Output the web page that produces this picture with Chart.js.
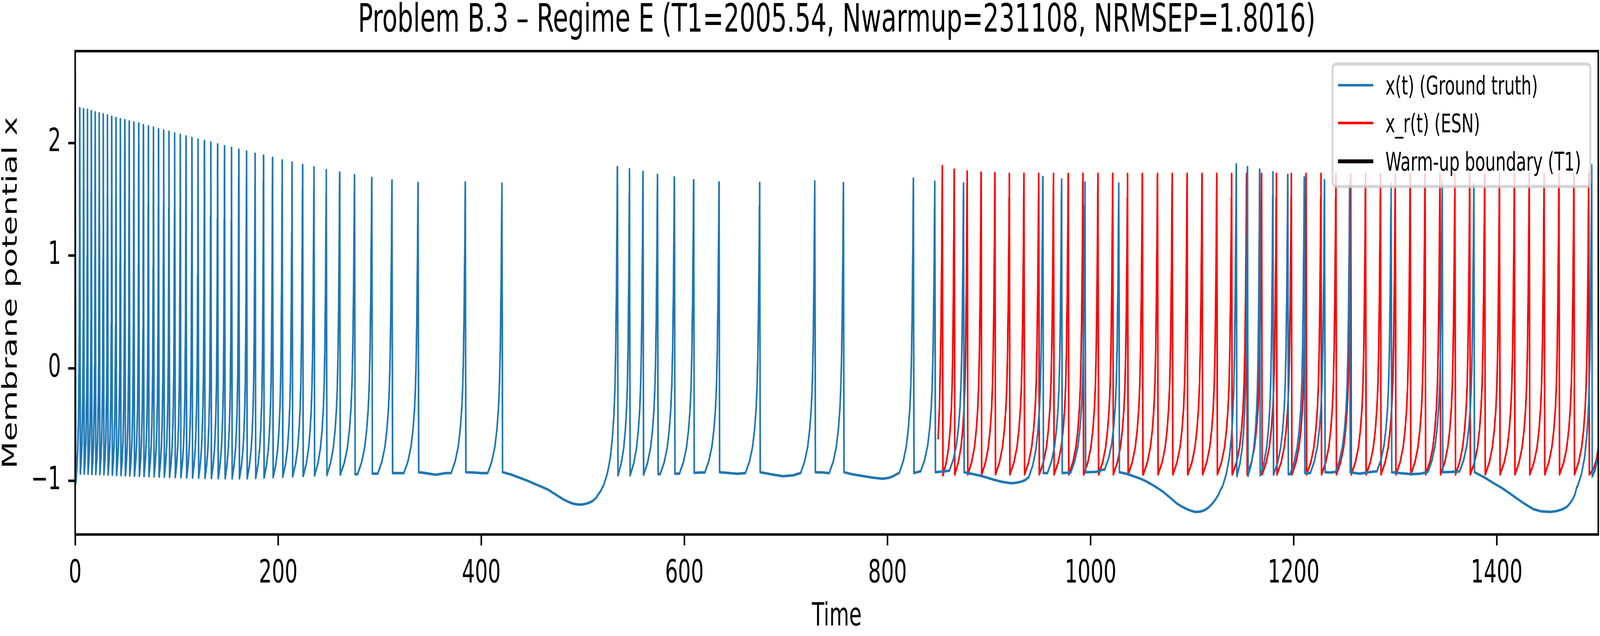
<!DOCTYPE html>
<html>
<head>
<meta charset="utf-8">
<script src="https://cdn.jsdelivr.net/npm/chart.js@4.4.1/dist/chart.umd.min.js"></script>
<style>
  html, body { margin: 0; padding: 0; background: #fff; overflow: hidden; }
  canvas { display: block; }
</style>
</head>
<body>
<canvas id="myChart" width="6428" height="1629" style="width:100vw;height:100vh"></canvas>
<script>
// values
const xTicks = [0, 200, 400, 600, 800, 1000, 1200, 1400];
const yTicks = [-1, 0, 1, 2];
const T1 = 2005.54;

// ground truth x(t): spike peak times, peak heights, value just after each reset
const blueSpikeT = [0, 4.5, 8.3, 12.1, 15.9, 19.7, 23.7, 27.7, 31.8, 36.0, 40.2, 44.5, 48.9, 53.2, 57.8,
  62.6, 67.2, 72.1, 77.1, 82.1, 87.2, 92.4, 98.0, 103.5, 109.2, 115.0, 121.0, 127.3, 133.6, 140.3, 147.1,
  154.0, 161.2, 168.8, 177.2, 185.5, 194.4, 203.9, 213.6, 224.0, 235.2, 247.3, 260.5, 275.1, 292.1, 312.0,
  337.7, 384.2, 420.3, 534.0, 545.9, 559.2, 573.5, 590.1, 609.1, 634.1, 674.1, 728.4, 756.6, 825.5, 846.6,
  874.9, 953.0, 971.5, 994.5, 1027.8, 1143.5, 1154.5, 1166.5, 1179.6, 1194.2, 1210.5, 1230.4, 1255.2,
  1296.0, 1346.3, 1377.5, 1493.5];
const blueSpikeX = [2.626, 2.308, 2.300, 2.294, 2.283, 2.272, 2.264, 2.255, 2.244, 2.233, 2.222, 2.211, 2.203,
  2.191, 2.183, 2.172, 2.158, 2.147, 2.136, 2.122, 2.110, 2.099, 2.085, 2.072, 2.058, 2.044, 2.030, 2.018,
  2.005, 1.988, 1.971, 1.957, 1.940, 1.924, 1.904, 1.888, 1.868, 1.846, 1.826, 1.804, 1.784, 1.759, 1.737,
  1.715, 1.690, 1.667, 1.645, 1.650, 1.639, 1.787, 1.767, 1.743, 1.717, 1.695, 1.670, 1.650, 1.645, 1.659,
  1.645, 1.684, 1.656, 1.642, 1.698, 1.676, 1.650, 1.639, 1.809, 1.787, 1.765, 1.740, 1.717, 1.695, 1.670,
  1.648, 1.642, 1.656, 1.636, 1.801];
const blueTroughX = [-1.02, -0.935, -0.935, -0.937, -0.938, -0.94, -0.94, -0.942, -0.944, -0.945, -0.947,
  -0.948, -0.95, -0.952, -0.954, -0.955, -0.957, -0.958, -0.96, -0.962, -0.963, -0.965, -0.966, -0.968,
  -0.97, -0.971, -0.972, -0.974, -0.975, -0.976, -0.977, -0.978, -0.978, -0.978, -0.975, -0.972, -0.968,
  -0.963, -0.96, -0.956, -0.952, -0.948, -0.944, -0.94, -0.935, -0.93, -0.922, -0.922, -0.922,
  -0.95, -0.95, -0.945, -0.94, -0.935, -0.928, -0.922, -0.922, -0.922, -0.922, -0.93, -0.922, -0.922,
  -0.93, -0.93, -0.922, -0.922, -0.958, -0.955, -0.95, -0.945, -0.94, -0.93, -0.922, -0.922, -0.922,
  -0.922, -0.922, -0.96];
// slow subthreshold stretches between spikes (time, value)
const blueRest = [
  [345, -0.93], [355, -0.945], [365, -0.93],
  [392, -0.925], [400, -0.93],
  [430, -0.945], [439.6, -0.978], [446, -1.0], [453.5, -1.03], [459, -1.05], [465.3, -1.075], [471, -1.108],
  [477.5, -1.145], [482, -1.17], [487, -1.19], [491, -1.203], [496.2, -1.21], [500, -1.208], [504, -1.2],
  [507, -1.19], [510, -1.175], [513, -1.15], [515, -1.12], [517.5, -1.09], [519.6, -1.05],
  [615, -0.925],
  [645, -0.93], [652, -0.936], [660, -0.93],
  [685, -0.94], [697, -0.958], [707, -0.95], [714, -0.93],
  [737, -0.925], [742, -0.93],
  [765, -0.94], [775, -0.955], [785, -0.97], [795, -0.98], [801, -0.973], [805, -0.96], [811, -0.93],
  [832, -0.915],
  [855, -0.915], [860, -0.91],
  [890, -0.95], [898, -0.97], [905, -0.99], [913, -1.008], [921.6, -1.02], [927, -1.016], [932, -1.005],
  [936, -0.99], [938.5, -0.97],
  [980, -0.925],
  [1005, -0.92], [1012, -0.9],
  [1035, -0.935], [1040, -0.95], [1048.7, -0.978], [1054, -1.0], [1060, -1.03], [1066, -1.063], [1072, -1.1],
  [1078, -1.145], [1085, -1.2], [1090, -1.228], [1095, -1.25], [1099, -1.265], [1103, -1.275], [1108, -1.272],
  [1112, -1.26], [1116, -1.237], [1120, -1.2], [1123, -1.165], [1126, -1.12], [1129, -1.06],
  [1236, -0.925], [1241, -0.92],
  [1265, -0.935], [1274, -0.922], [1281, -0.915],
  [1305, -0.93], [1316, -0.94], [1325, -0.935], [1332, -0.92],
  [1355, -0.92], [1363, -0.915],
  [1384, -0.95], [1390, -0.98], [1397, -1.02], [1404.7, -1.06], [1412, -1.105], [1419, -1.15], [1427, -1.2],
  [1436, -1.25], [1444, -1.27], [1452.6, -1.275], [1459, -1.267], [1465, -1.25], [1469, -1.23], [1472, -1.2],
  [1475, -1.16], [1477, -1.12], [1479, -1.05],
  [1497, -0.9], [1500, -0.77]
];

// ESN prediction x_r(t)
const redLeadIn = [[849.8, -0.63], [851.2, -0.35], [852.6, 0.3], [853.4, 1.0]];
const redSpikeT = [854.0, 865.7, 878.5, 892.2, 905.8, 920.0, 934.4, 948.9, 963.5, 978.0, 992.5, 1007.3,
  1021.8, 1036.4, 1051.0, 1065.9, 1080.4, 1095.1, 1109.8, 1124.3, 1138.9, 1153.7, 1168.4, 1183.0, 1197.7,
  1212.2, 1226.9, 1241.6, 1256.2, 1270.8, 1285.5, 1300.1, 1314.8, 1329.4, 1344.1, 1358.8, 1373.4, 1388.1,
  1402.7, 1417.4, 1432.0, 1446.7, 1461.3, 1476.0, 1490.6];
const redSpikeX = [1.795, 1.762, 1.748, 1.737, 1.732, 1.726, 1.726, 1.726, 1.726, 1.726, 1.726, 1.726,
  1.726, 1.726, 1.726, 1.726, 1.726, 1.726, 1.726, 1.726, 1.726, 1.726, 1.726, 1.726, 1.726, 1.726,
  1.726, 1.726, 1.726, 1.726, 1.726, 1.726, 1.726, 1.726, 1.726, 1.726, 1.726, 1.726, 1.726, 1.726,
  1.726, 1.726, 1.726, 1.726, 1.726];
const redTroughX = [-0.95, -0.942, -0.942, -0.942, -0.942, -0.942, -0.942, -0.942, -0.942, -0.942, -0.942,
  -0.942, -0.942, -0.942, -0.942, -0.942, -0.942, -0.942, -0.942, -0.942, -0.942, -0.942, -0.942, -0.942,
  -0.942, -0.942, -0.942, -0.942, -0.942, -0.942, -0.942, -0.942, -0.942, -0.942, -0.942, -0.942, -0.942,
  -0.942, -0.942, -0.942, -0.942, -0.942, -0.942, -0.942, -0.942];
const redRest = [[1495, -0.9], [1498, -0.82], [1500, -0.71]];

// upstroke shape read from an isolated spike: time before peak, fraction of the way up
const riseTau = [14, 10, 7, 5, 3.5, 2.5, 1.7, 1.0, 0.5, 0.2];
const riseFrac = [0, 0.04, 0.09, 0.15, 0.22, 0.30, 0.42, 0.60, 0.78, 0.92];
const resetDelay = 0.6;

const FONT = "'DejaVu Sans', sans-serif";

function buildTrace(peakT, peakX, troughX, rest, leadIn) {
  const pts = leadIn.map(p => ({x: p[0], y: p[1]}));
  for (let i = 0; i < peakT.length; i++) {
    pts.push({x: peakT[i], y: peakX[i]});
    const tr = peakT[i] + resetDelay;
    pts.push({x: tr, y: troughX[i]});
    if (i === peakT.length - 1) {
      rest.forEach(p => { if (p[0] > tr) pts.push({x: p[0], y: p[1]}); });
      break;
    }
    let base = troughX[i];
    const next = peakT[i + 1];
    const span = Math.min(riseTau[0], next - tr);
    const start = next - span;
    rest.forEach(p => {
      if (p[0] > tr && p[0] < start) { pts.push({x: p[0], y: p[1]}); base = p[1]; }
    });
    for (let k = 0; k < riseTau.length; k++) {
      pts.push({x: next - riseTau[k] * span / riseTau[0], y: base + riseFrac[k] * (peakX[i + 1] - base)});
    }
  }
  return pts;
}

const yMin = -1.475, yMax = 2.815;

const frameAndLegend = {
  id: 'frameAndLegend',
  afterDatasetsDraw(chart) {
    const {ctx, chartArea: a} = chart;
    ctx.save();
    ctx.strokeStyle = '#000';
    ctx.lineWidth = 6.4;
    ctx.lineJoin = 'miter';
    ctx.strokeRect(a.left, a.top, a.right - a.left, a.bottom - a.top);

    // legend box, upper right
    const bx = 5353.6, by = 164, bw = 6389 - 5353.6, bh = 477.7 - 164, r = 13;
    ctx.beginPath();
    ctx.moveTo(bx + r, by);
    ctx.arcTo(bx + bw, by, bx + bw, by + bh, r);
    ctx.arcTo(bx + bw, by + bh, bx, by + bh, r);
    ctx.arcTo(bx, by + bh, bx, by, r);
    ctx.arcTo(bx, by, bx + bw, by, r);
    ctx.closePath();
    ctx.fillStyle = 'rgba(255,255,255,0.8)';
    ctx.fill();
    ctx.strokeStyle = 'rgba(204,204,204,0.8)';
    ctx.lineWidth = 8;
    ctx.stroke();

    const rows = [218.3, 315, 413.3];
    ctx.font = '65.7px ' + FONT;
    ctx.textBaseline = 'alphabetic';
    ctx.textAlign = 'left';
    chart.data.datasets.forEach((ds, i) => {
      ctx.beginPath();
      ctx.strokeStyle = ds.borderColor;
      ctx.lineWidth = ds.borderWidth;
      ctx.lineCap = 'butt';
      ctx.moveTo(5375.5, rows[i]);
      ctx.lineTo(5517, rows[i]);
      ctx.stroke();
      ctx.fillStyle = '#000';
      ctx.fillText(ds.label, 5566, rows[i] + 24);
    });
    ctx.restore();
  }
};

const data = {
  datasets: [
    {
      label: 'x(t) (Ground truth)',
      data: buildTrace(blueSpikeT, blueSpikeX, blueTroughX, blueRest, []),
      borderColor: '#1f77b4',
      borderWidth: 6.5
    },
    {
      label: 'x_r(t) (ESN)',
      data: buildTrace(redSpikeT, redSpikeX, redTroughX, redRest, redLeadIn),
      borderColor: '#ff0000',
      borderWidth: 6.5
    },
    {
      label: 'Warm-up boundary (T1)',
      data: [{x: T1, y: yMin}, {x: T1, y: yMax}],
      borderColor: '#000000',
      borderWidth: 10
    }
  ]
};

const tickFont = {family: FONT, size: 81.7};

const config = {
  type: 'line',
  data: data,
  options: {
    responsive: false,
    animation: false,
    devicePixelRatio: 1,
    parsing: false,
    elements: {
      point: {radius: 0},
      line: {tension: 0, fill: false, borderJoinStyle: 'round', borderCapStyle: 'butt'}
    },
    layout: {padding: {top: 0, left: 0, right: 7, bottom: 0}},
    plugins: {
      legend: {display: false},
      tooltip: {enabled: false},
      title: {
        display: true,
        fullSize: false,
        text: 'Problem B.3 \u2013 Regime E (T1=2005.54, Nwarmup=231108, NRMSEP=1.8016)',
        color: '#000',
        font: {family: FONT, size: 100, weight: 'normal', lineHeight: 1.1},
        padding: {top: 0, bottom: 21}
      }
    },
    scales: {
      x: {
        type: 'linear',
        min: 0,
        max: 1500,
        afterBuildTicks: s => { s.ticks = xTicks.map(v => ({value: v})); },
        afterFit: s => { s.height = 260; },
        grid: {display: true, drawOnChartArea: false, drawTicks: true, tickLength: 28, tickWidth: 6.4, tickColor: '#000'},
        border: {display: false},
        ticks: {color: '#000', font: tickFont, padding: 25, maxRotation: 0, autoSkip: false, callback: v => String(v)},
        title: {display: true, text: 'Time', color: '#000', font: {family: FONT, size: 81.7, lineHeight: 1}, padding: {top: 0, bottom: 7}}
      },
      y: {
        type: 'linear',
        min: yMin,
        max: yMax,
        afterBuildTicks: s => { s.ticks = yTicks.map(v => ({value: v})); },
        afterFit: s => { s.width = 302; },
        grid: {display: true, drawOnChartArea: false, drawTicks: true, tickLength: 28, tickWidth: 6.4, tickColor: '#000'},
        border: {display: false},
        ticks: {
          color: '#000', font: tickFont, padding: 29,
          callback: v => (v < 0 ? '\u2212' + Math.abs(v) : String(v))
        },
        title: {display: true, text: 'Membrane potential x', color: '#000', font: {family: FONT, size: 81.7, lineHeight: 1}, padding: {top: 5, bottom: 0}}
      }
    }
  },
  plugins: [frameAndLegend]
};

const myChart = new Chart(document.getElementById('myChart'), config);
</script>
</body>
</html>
